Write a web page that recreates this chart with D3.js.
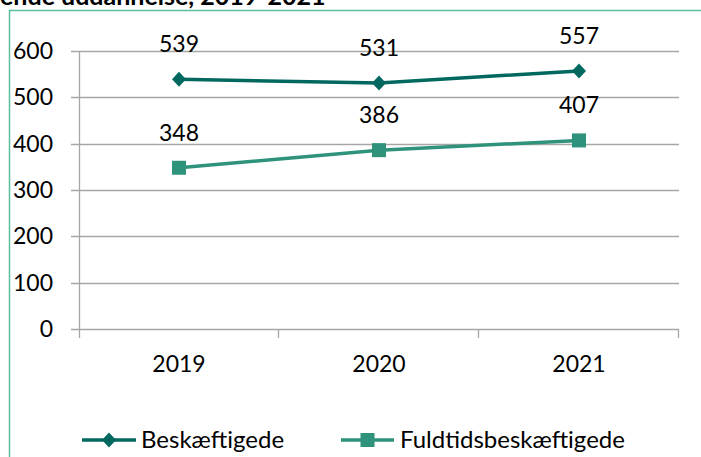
<!DOCTYPE html>
<html><head><meta charset="utf-8">
<script src="https://cdn.jsdelivr.net/npm/d3@7/dist/d3.min.js"></script>
<style>body{margin:0;background:#fff}svg{display:block}</style>
</head><body>
<svg id="c" width="701" height="457"></svg>
<script>
const title = "ende uddannelse, 2019-2021";
const years = ["2019", "2020", "2021"];
const beskaeftigede = [539, 531, 557];
const fuldtids = [348, 386, 407];
const yTicks = [0, 100, 200, 300, 400, 500, 600];
const seriesNames = ["Beskæftigede", "Fuldtidsbeskæftigede"];
const colors = ["#00685F", "#2E937A"];

(function () {
const svg = d3.select("#c");
const font = "Lato, 'Open Sans', sans-serif";
const pLeft = 79, pRight = 679, pTop = 51, pBottom = 329;

// title (clipped at top, as in the reference)
svg.append("text").attr("x", 0).attr("y", 5)
  .attr("font-family", font).attr("font-weight", "bold").attr("font-size", 25)
  .attr("fill", "#000").text(title);

// frame
svg.append("path").attr("d", "M9.5,457 V10.5 H701")
  .attr("fill", "none").attr("stroke", "#5DBE9C").attr("stroke-width", 1.5);

const x = d3.scaleBand().domain(years).range([pLeft, pRight]);
const y = d3.scaleLinear().domain([0, 600]).range([pBottom, pTop]);

// gridlines
svg.append("g").selectAll("line").data(yTicks).join("line")
  .attr("x1", pLeft - 8).attr("x2", pRight)
  .attr("y1", d => Math.round(y(d)) + 0.5).attr("y2", d => Math.round(y(d)) + 0.5)
  .attr("stroke", "#A6A6A6").attr("stroke-width", 1.3);

// y axis line
svg.append("line").attr("x1", pLeft + 0.5).attr("x2", pLeft + 0.5)
  .attr("y1", pTop).attr("y2", pBottom + 9).attr("stroke", "#A6A6A6").attr("stroke-width", 1.3);

// x category ticks
const bounds = years.map(d => x(d)).concat([pRight]);
svg.append("g").selectAll("line").data(bounds.slice(1)).join("line")
  .attr("x1", d => d - 0.5).attr("x2", d => d - 0.5)
  .attr("y1", pBottom).attr("y2", pBottom + 9)
  .attr("stroke", "#A6A6A6").attr("stroke-width", 1.3);

// y labels
svg.append("g").selectAll("text").data(yTicks).join("text")
  .attr("x", 53).attr("y", d => y(d) + 8)
  .attr("text-anchor", "end").attr("font-family", font).attr("font-size", 23)
  .attr("fill", "#000").text(d => d);

// x labels
svg.append("g").selectAll("text").data(years).join("text")
  .attr("x", d => x(d) + x.bandwidth() / 2).attr("y", 372)
  .attr("text-anchor", "middle").attr("font-family", font).attr("font-size", 23)
  .attr("fill", "#000").text(d => d);

const cx = d => x(d) + x.bandwidth() / 2;
const line = d3.line().x(d => cx(d.year)).y(d => y(d.v));
const data = [beskaeftigede, fuldtids].map(arr => arr.map((v, i) => ({year: years[i], v})));

data.forEach((s, k) => {
  svg.append("path").datum(s).attr("d", line)
    .attr("fill", "none").attr("stroke", colors[k]).attr("stroke-width", 3.5);
});

function marker(g, k, px, py) {
  if (k === 0) {
    g.append("path").attr("d", `M${px},${py-7.5} L${px+7},${py} L${px},${py+7.5} L${px-7},${py} Z`)
      .attr("fill", colors[0]);
  } else {
    g.append("rect").attr("x", px - 7).attr("y", py - 7).attr("width", 14).attr("height", 14)
      .attr("fill", colors[1]);
  }
}

data.forEach((s, k) => {
  const g = svg.append("g");
  s.forEach(d => marker(g, k, cx(d.year), y(d.v)));
  svg.append("g").selectAll("text").data(s).join("text")
    .attr("x", d => cx(d.year)).attr("y", d => y(d.v) - 27)
    .attr("text-anchor", "middle").attr("font-family", font).attr("font-size", 23)
    .attr("fill", "#000").text(d => d.v);
});

// legend
const legend = [{x1: 82, x2: 136, tx: 141}, {x1: 341, x2: 394, tx: 400}];
legend.forEach((l, k) => {
  const g = svg.append("g");
  g.append("line").attr("x1", l.x1).attr("x2", l.x2).attr("y1", 440).attr("y2", 440)
    .attr("stroke", colors[k]).attr("stroke-width", 3.5);
  marker(g, k, (l.x1 + l.x2) / 2, 440);
  g.append("text").attr("x", l.tx).attr("y", 448).attr("font-family", font).attr("font-size", 24)
    .attr("fill", "#000").text(seriesNames[k]);
});
})();
</script>
</body></html>
